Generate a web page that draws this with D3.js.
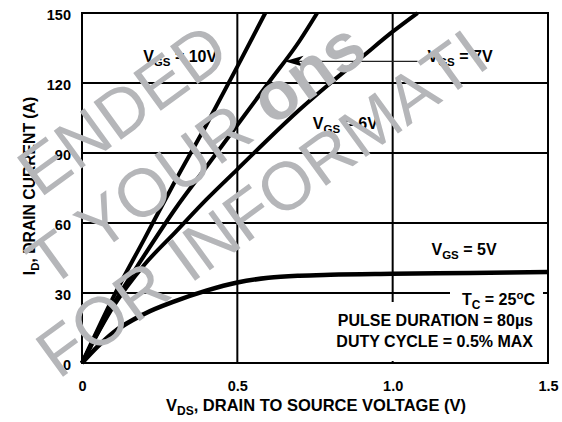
<!DOCTYPE html>
<html>
<head>
<meta charset="utf-8">
<script src="https://cdn.jsdelivr.net/npm/d3@7/dist/d3.min.js"></script>
<style>
  html, body { margin: 0; padding: 0; background: #fff; }
  svg { display: block; }
  text { font-family: "Liberation Sans", Arial, Helvetica, sans-serif; }
</style>
</head>
<body>
<svg id="chart" width="562" height="422"></svg>
<script>
// ---- data ----
const xTicks = [0, 0.5, 1.0, 1.5];
const xTickLabels = ["0", "0.5", "1.0", "1.5"];
const yTicks = [0, 30, 60, 90, 120, 150];
const yTickLabels = ["0", "30", "60", "90", "120", "150"];

const vgs10_vds = [0, 0.1, 0.2, 0.3, 0.4, 0.5, 0.59];
const vgs10_id  = [0, 28, 53, 78, 102, 127, 150];

const vgs7_vds = [0, 0.1, 0.2, 0.3, 0.4, 0.5, 0.6, 0.7, 0.757];
const vgs7_id  = [0, 25, 46, 66, 84, 102, 120, 138, 150];

const vgs6_vds = [0, 0.1, 0.2, 0.3, 0.4, 0.5, 0.6, 0.7, 0.8, 0.9, 1.0, 1.08];
const vgs6_id  = [0, 24, 42, 56, 70, 83, 96, 108.5, 120, 131, 142, 150];

const vgs5_vds = [0, 0.05, 0.1, 0.2, 0.3, 0.4, 0.5, 0.6, 0.7, 0.8, 1.0, 1.25, 1.5];
const vgs5_id  = [0, 7, 13, 21, 26.5, 31, 34.5, 36.5, 37.4, 37.8, 38.2, 38.6, 39];

const seriesNames = ["10V", "7V", "6V", "5V"];

const watermarkLines = [
  "NOT RECOMMENDED FOR NEW DESIGN",
  "CONTACT YOUR |onsemi",
  "REPRESENTATIVE FOR INFORMATION"
];

// ---- layout ----
const W = 562, H = 422;
const svg = d3.select("#chart");
const x = d3.scaleLinear().domain([0, 1.5]).range([82, 548]);
const y = d3.scaleLinear().domain([0, 150]).range([363, 13]);
const FONT = "bold";

// grid
const g = svg.append("g");
g.selectAll("line.vg").data(xTicks.slice(1, -1)).join("line")
  .attr("x1", d => x(d)).attr("x2", d => x(d))
  .attr("y1", y(0)).attr("y2", y(150))
  .attr("stroke", "#000").attr("stroke-width", 2);
g.selectAll("line.hg").data(yTicks.slice(1, -1)).join("line")
  .attr("x1", x(0)).attr("x2", x(1.5))
  .attr("y1", d => y(d)).attr("y2", d => y(d))
  .attr("stroke", "#000").attr("stroke-width", 2);
g.append("rect")
  .attr("x", x(0)).attr("y", y(150))
  .attr("width", x(1.5) - x(0)).attr("height", y(0) - y(150))
  .attr("fill", "none").attr("stroke", "#000").attr("stroke-width", 2);

// curves
const line = d3.line().x(d => x(d[0])).y(d => y(d[1])).curve(d3.curveMonotoneX);
const curves = [
  d3.zip(vgs10_vds, vgs10_id),
  d3.zip(vgs7_vds, vgs7_id),
  d3.zip(vgs6_vds, vgs6_id),
  d3.zip(vgs5_vds, vgs5_id)
];
svg.append("g").selectAll("path").data(curves).join("path")
  .attr("d", line)
  .attr("fill", "none").attr("stroke", "#000")
  .attr("stroke-width", (d, i) => i === 3 ? 4.5 : 4)
  .attr("stroke-linecap", "butt");

// axes tick labels
const xAxis = d3.axisBottom(x).tickValues(xTicks).tickSize(0).tickPadding(0)
  .tickFormat((d, i) => xTickLabels[i]);
const gx = svg.append("g").attr("transform", `translate(0,${y(0) + 18})`).call(xAxis);
gx.select(".domain").remove();
gx.selectAll("text").attr("font-size", 14.5).attr("font-weight", FONT)
  .attr("fill", "#000").attr("dy", "0.71em").attr("font-family", "Liberation Sans, Arial, sans-serif");

const yAxis = d3.axisLeft(y).tickValues(yTicks).tickSize(0).tickPadding(0)
  .tickFormat((d, i) => yTickLabels[i]);
const gy = svg.append("g").attr("transform", `translate(${x(0) - 11},1.5)`).call(yAxis);
gy.select(".domain").remove();
gy.selectAll("text").attr("font-size", 14.5).attr("font-weight", FONT)
  .attr("fill", "#000").attr("font-family", "Liberation Sans, Arial, sans-serif");

// axis titles
const xt = svg.append("text").attr("x", 316).attr("y", 411)
  .attr("text-anchor", "middle").attr("font-weight", FONT).attr("font-size", 16.5);
xt.append("tspan").text("V");
xt.append("tspan").text("DS").attr("font-size", 12).attr("dy", 4);
xt.append("tspan").text(", DRAIN TO SOURCE VOLTAGE (V)").attr("dy", -4);

const yt = svg.append("text").attr("transform", "translate(35,186) rotate(-90)")
  .attr("text-anchor", "middle").attr("font-weight", FONT).attr("font-size", 15.7);
yt.append("tspan").text("I");
yt.append("tspan").text("D").attr("font-size", 11.5).attr("dy", 4);
yt.append("tspan").text(", DRAIN CURRENT (A)").attr("dy", -4);

// VGS labels
function vgsLabel(vx, iy, name) {
  const t = svg.append("text").attr("x", x(vx)).attr("y", y(iy))
    .attr("font-weight", FONT).attr("font-size", 16);
  t.append("tspan").text("V");
  t.append("tspan").text("GS").attr("font-size", 11.5).attr("dy", 4);
  t.append("tspan").text(" = " + name).attr("dy", -4);
}
vgsLabel(0.197, 129, seriesNames[0]);
vgsLabel(1.112, 129, seriesNames[1]);
vgsLabel(0.743, 100.5, seriesNames[2]);
vgsLabel(1.125, 46.5, seriesNames[3]);

// arrow for 7V
const ay = y(129.3);
svg.append("line").attr("x1", x(1.08)).attr("x2", x(0.68)).attr("y1", ay).attr("y2", ay)
  .attr("stroke", "#222").attr("stroke-width", 1.2);
const tipX = x(0.652);
svg.append("path")
  .attr("d", `M${tipX},${ay} L${tipX + 19},${ay - 5.5} L${tipX + 14},${ay} L${tipX + 19},${ay + 5.5} Z`)
  .attr("fill", "#000");

// conditions box
svg.append("rect").attr("x", 450).attr("y", 285).attr("width", 93).attr("height", 20).attr("fill", "#fff");
svg.append("rect").attr("x", 330).attr("y", 302).attr("width", 214).attr("height", 59).attr("fill", "#fff");
const tc = svg.append("text").attr("x", 535).attr("y", 305).attr("text-anchor", "end")
  .attr("font-weight", FONT).attr("font-size", 16);
tc.append("tspan").text("T");
tc.append("tspan").text("C").attr("font-size", 12).attr("dy", 4);
tc.append("tspan").text(" = 25").attr("dy", -4);
tc.append("tspan").text("o").attr("font-size", 11.5).attr("dy", -6);
tc.append("tspan").text("C").attr("dy", 6);
svg.append("text").attr("x", 533).attr("y", 326).attr("text-anchor", "end")
  .attr("font-weight", FONT).attr("font-size", 16).text("PULSE DURATION = 80\u00b5s");
svg.append("text").attr("x", 533).attr("y", 347).attr("text-anchor", "end")
  .attr("font-weight", FONT).attr("font-size", 16).text("DUTY CYCLE = 0.5% MAX");

// watermark (letters kept only where they fit inside the picture)
const WM_SIZE = 68, ANG = -36;
const dx = Math.cos(ANG * Math.PI / 180), dy = Math.sin(ANG * Math.PI / 180);
const wm = svg.append("g").attr("fill", "#b5b6b9").attr("font-size", WM_SIZE);
const meas = svg.append("text").attr("font-size", WM_SIZE).attr("visibility", "hidden");
function charW(c, bold) {
  meas.attr("font-weight", bold ? "bold" : "normal").text(c === " " ? "\u00a0" : c);
  return meas.node().getComputedTextLength();
}
function wmLine(tx, ty, str) {
  let adv = 0, bold = false;
  for (const c of str) {
    if (c === "|") { bold = !bold; continue; }
    const w = charW(c, bold);
    if (c !== " ") {
      const px = tx + adv * dx, py = ty + adv * dy;
      const t = wm.append("text")
        .attr("transform", `translate(${px},${py}) rotate(${ANG})`)
        .attr("font-weight", bold ? "bold" : "normal").text(c);
      const b = t.node().getBoundingClientRect();
      if (b.left < 0 || b.top < 0 || b.right > W || b.bottom > H) t.remove();
    }
    adv += w;
  }
}
wmLine(-342, 476, watermarkLines[0]);
wmLine(-183, 458, watermarkLines[1]);
wmLine(-452, 751, watermarkLines[2]);
meas.remove();
</script>
</body>
</html>
